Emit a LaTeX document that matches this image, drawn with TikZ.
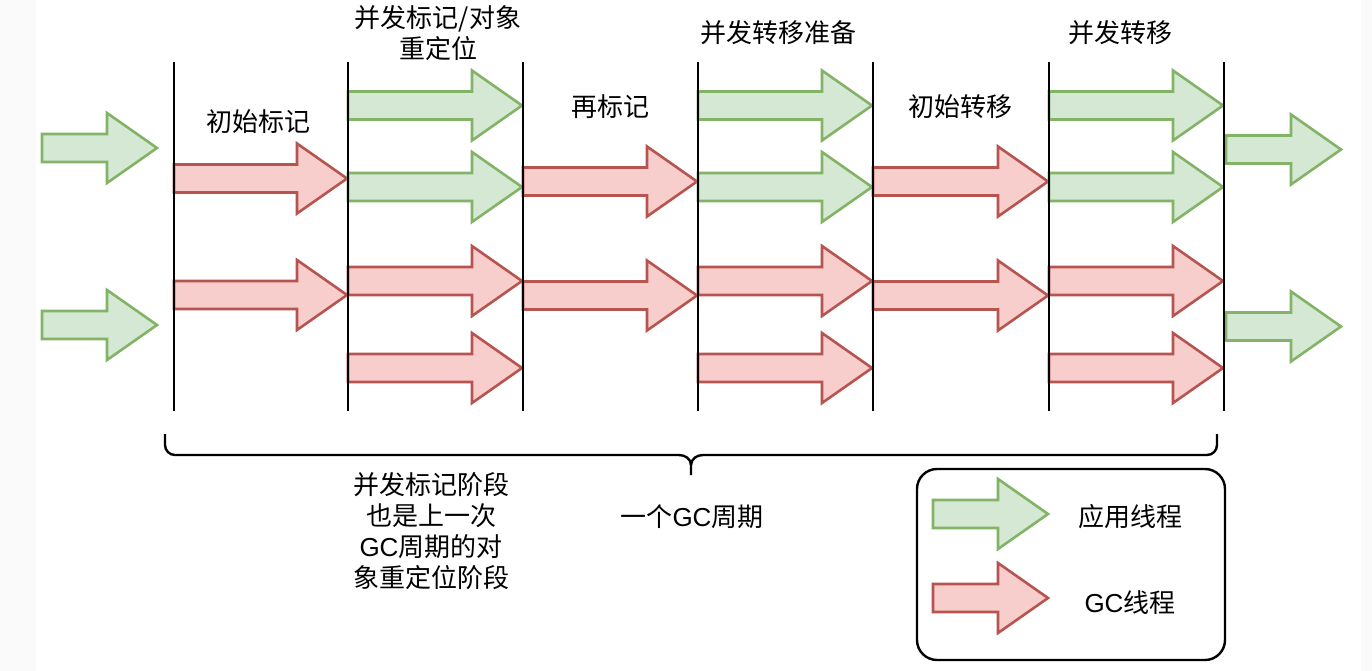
\documentclass[tikz,border=0pt]{standalone}
\usepackage{fontspec}
\setmainfont{Noto Sans CJK SC}
\newfontfamily\latinsans{Liberation Sans}
\definecolor{gfill}{HTML}{D5E8D4}
\definecolor{gline}{HTML}{82B366}
\definecolor{rfill}{HTML}{F8CECC}
\definecolor{rline}{HTML}{B85450}
\definecolor{edgegrey}{HTML}{FAFAFA}
\tikzset{
  garrow/.style={fill=gfill,draw=gline,line width=2.6pt},
  rarrow/.style={fill=rfill,draw=rline,line width=2.6pt},
  phaseline/.style={line width=2.4pt,draw=black},
  lbl/.style={font=\fontsize{26}{31}\selectfont,align=center,inner sep=0pt},
  bracepath/.style={line width=2.4pt,draw=black},
}
% style, x0, x1, yc
\newcommand\blockarrow[4]{%
  \draw[#1] (#2,#4-14) -- (#3-50,#4-14) -- (#3-50,#4-35) -- (#3,#4) -- (#3-50,#4+35) -- (#3-50,#4+14) -- (#2,#4+14) -- cycle;}
\newcommand\GC{{\latinsans GC}}
\begin{document}
\begin{tikzpicture}[x=1pt,y=-1pt]
\useasboundingbox (0,0) rectangle (1372,671);
\fill[edgegrey] (0,0) rectangle (1372,671);
\fill[white] (36,0) rectangle (1361,671);

% phase boundaries
\foreach \n/\x in {1/174,2/348,3/523,4/698,5/873,6/1049,7/1224}{
  \coordinate (t\n) at (\x,62);
  \coordinate (b\n) at (\x,411);
}

% left app threads
\blockarrow{garrow}{42}{157}{148}
\blockarrow{garrow}{42}{157}{325}
% col 1
\blockarrow{rarrow}{174}{347}{178.5}
\blockarrow{rarrow}{174}{347}{295}
% col 2
\blockarrow{garrow}{348}{522}{105.5}
\blockarrow{garrow}{348}{522}{187}
\blockarrow{rarrow}{348}{522}{281}
\blockarrow{rarrow}{348}{522}{368}
% col 3
\blockarrow{rarrow}{523}{697}{181.5}
\blockarrow{rarrow}{523}{697}{295.5}
% col 4
\blockarrow{garrow}{698}{872}{105.5}
\blockarrow{garrow}{698}{872}{187}
\blockarrow{rarrow}{698}{872}{281}
\blockarrow{rarrow}{698}{872}{368}
% col 5
\blockarrow{rarrow}{873}{1048}{181.5}
\blockarrow{rarrow}{873}{1048}{295.5}
% col 6
\blockarrow{garrow}{1049}{1223}{105.5}
\blockarrow{garrow}{1049}{1223}{187}
\blockarrow{rarrow}{1049}{1223}{281}
\blockarrow{rarrow}{1049}{1223}{368}
% right app threads
\blockarrow{garrow}{1226}{1341}{149.5}
\blockarrow{garrow}{1226}{1341}{326.5}

\foreach \n in {1,...,7}{ \draw[phaseline] (t\n) -- (b\n); }

% phase labels
\node[lbl] (p1) at (258,122) {初始标记};
\node[lbl] (p2) at (438,33) {并发标记/对象\\重定位};
\node[lbl] (p3) at (610,107) {再标记};
\node[lbl] (p4) at (778,33) {并发转移准备};
\node[lbl] (p5) at (960,107) {初始转移};
\node[lbl] (p6) at (1120,33) {并发转移};

% brace
\coordinate (brL) at (165,434);
\coordinate (brM) at (691,475);
\coordinate (brR) at (1217,434);
\draw[bracepath,rounded corners=10] (brL) -- (165,455) -- (679,455);
\draw[bracepath] (679,455) to[out=0,in=90] (691,465) -- (brM);
\draw[bracepath] (703,455) to[out=180,in=90] (691,465);
\draw[bracepath,rounded corners=10] (703,455) -- (1217,455) -- (brR);

\node[lbl] (note) at (431,531) {并发标记阶段\\也是上一次\\\GC 周期的对\\象重定位阶段};
\node[lbl] (cycle) at (692,517) {一个\GC 周期};

% legend
\node[draw=black,line width=2.4pt,rounded corners=20,minimum width=308pt,minimum height=191pt,inner sep=0pt] (legend) at (1071,564.5) {};
\blockarrow{garrow}{933}{1048}{514}
\blockarrow{rarrow}{933}{1048}{598}
\node[lbl] (lapp) at (1130,517) {应用线程};
\node[lbl] (lgc) at (1130,603) {\GC 线程};
\end{tikzpicture}
\end{document}
